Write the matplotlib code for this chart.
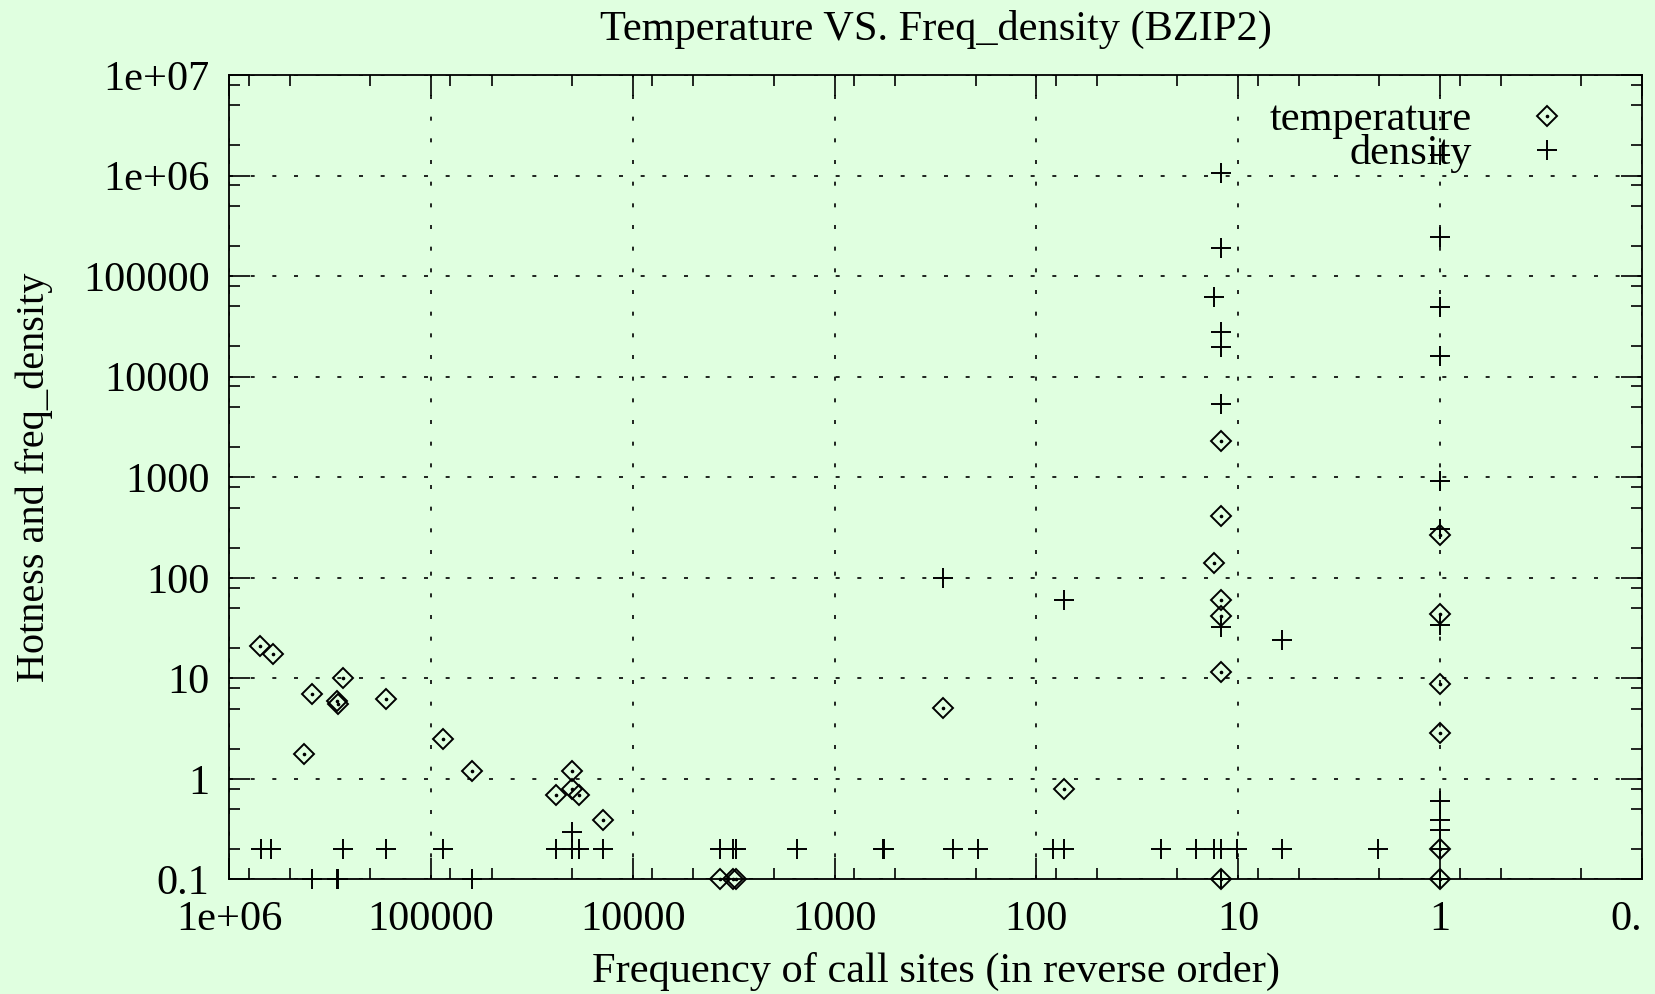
import matplotlib
matplotlib.use("Agg")
import matplotlib.pyplot as plt
from matplotlib.ticker import LogLocator, NullFormatter

plt.rcParams['font.family'] = ['Liberation Serif', 'DejaVu Serif']

# temperature (diamonds)
temp_x = [700000, 608000, 272000, 387000, 292000, 288000, 167000, 425000,
          87500, 62200, 20100, 24100, 20100, 18400, 14000,
          3680, 3190, 3070, 291, 72.6,
          12.2, 12.2, 13.2, 12.2, 12.2, 12.2, 12.2,
          1, 1, 1, 1, 1, 1]
temp_y = [20.8, 17.6, 10.2, 7.0, 5.9, 5.6, 6.2, 1.78,
          2.47, 1.19, 1.19, 0.70, 0.80, 0.70, 0.395,
          0.1, 0.1, 0.1, 5.07, 0.79,
          2300, 409, 140, 59.7, 41.7, 11.6, 0.1,
          265, 43.4, 8.7, 2.86, 0.2, 0.1]

# density (pluses)
dens_x = [695000, 620000, 272000, 167000, 87500, 24100, 20100, 18400, 14000,
          20100, 387000, 292000, 288000, 62200,
          3680, 3190, 3070, 1537, 577, 568, 291, 258, 194, 82.4, 72.6, 72.6,
          12.2, 12.2, 13.2, 12.2, 12.2, 12.2, 12.2,
          24.2, 16.2, 13.2, 12.2, 10.1, 6.08, 6.08, 2.03, 12.2,
          1, 1, 1, 1, 1, 1, 1, 1, 1, 1, 1, 1]
dens_y = [0.2, 0.2, 0.2, 0.2, 0.2, 0.2, 0.2, 0.2, 0.2,
          0.30, 0.1, 0.1, 0.1, 0.1,
          0.2, 0.2, 0.2, 0.2, 0.2, 0.2, 100, 0.2, 0.2, 0.2, 0.2, 60.7,
          1.07e6, 189000, 61400, 27900, 19800, 5400, 32.3,
          0.2, 0.2, 0.2, 0.2, 0.2, 0.2, 23.9, 0.2, 0.1,
          1.61e6, 247000, 48900, 15900, 919, 309, 33.7, 0.60, 0.39, 0.31, 0.2, 0.1]

xtick_vals = [1e6, 1e5, 1e4, 1e3, 1e2, 10, 1, 0.1]
# the last label is cut at the right edge in the original picture
xtick_labels = ['1e+06', '100000', '10000', '1000', '100', '10', '1', '0.']
ytick_vals = [0.1, 1, 10, 100, 1000, 1e4, 1e5, 1e6, 1e7]
ytick_labels = ['0.1', '1', '10', '100', '1000', '10000', '100000', '1e+06', '1e+07']

bg = '#e0ffe0'
fs = 30.5

fig = plt.figure(figsize=(16.56, 9.94), dpi=100, facecolor=bg)
ax = fig.add_axes([0.1383, 0.1152, 0.8532, 0.8093])
ax.set_facecolor(bg)

ax.set_xscale('log')
ax.set_yscale('log')
ax.set_xlim(1e6, 0.1)
ax.set_ylim(0.1, 1e7)

ax.set_xticks(xtick_vals, xtick_labels)
ax.set_yticks(ytick_vals, ytick_labels)
ax.xaxis.set_minor_locator(LogLocator(base=10, subs=(2.0, 5.0, 8.0), numticks=30))
ax.yaxis.set_minor_locator(LogLocator(base=10, subs=(2.0, 5.0, 8.0), numticks=30))
ax.xaxis.set_minor_formatter(NullFormatter())
ax.yaxis.set_minor_formatter(NullFormatter())

ax.tick_params(which='both', direction='in', top=True, right=True, width=1.2,
               labelsize=fs, color='black')
ax.tick_params(which='major', length=15)
ax.tick_params(which='minor', length=8)
ax.tick_params(axis='x', pad=15)
ax.tick_params(axis='y', pad=14)
ax.get_xticklabels()[-1].set_horizontalalignment('right')

for sp in ax.spines.values():
    sp.set_linewidth(1.3)

ax.grid(True, which='major', color='black', linestyle=(0, (2.4, 10.6)), linewidth=1.2)
ax.set_axisbelow(True)

h_temp, = ax.plot(temp_x, temp_y, linestyle='none', marker='D', markersize=10.5,
                  markerfacecolor='none', markeredgecolor='black', markeredgewidth=1.4,
                  clip_on=False, zorder=3)
h_dot, = ax.plot(temp_x, temp_y, linestyle='none', marker='o', markersize=1.6,
                 color='black', clip_on=False, zorder=3)
h_dens, = ax.plot(dens_x, dens_y, linestyle='none', marker='+', markersize=15,
                  color='black', markeredgewidth=1.4, clip_on=False, zorder=3)

ax.legend([(h_temp, h_dot), h_dens], ['temperature', 'density'],
          loc='upper right', bbox_to_anchor=(0.9476, 0.968), frameon=False,
          markerfirst=False, fontsize=fs, handlelength=1.0, handletextpad=1.27,
          labelspacing=-0.12, borderpad=0, borderaxespad=0)

fig.text(0.5652, 0.9598, 'Temperature VS. Freq_density (BZIP2)', fontsize=fs,
         ha='center', va='baseline')
fig.text(0.5652, 0.0121, 'Frequency of call sites (in reverse order)', fontsize=fs,
         ha='center', va='baseline')
fig.text(0.0205, 0.52, 'Hotness and freq_density', fontsize=29, rotation=90,
         ha='center', va='center')

fig.savefig('out.png', dpi=100, facecolor=bg)
